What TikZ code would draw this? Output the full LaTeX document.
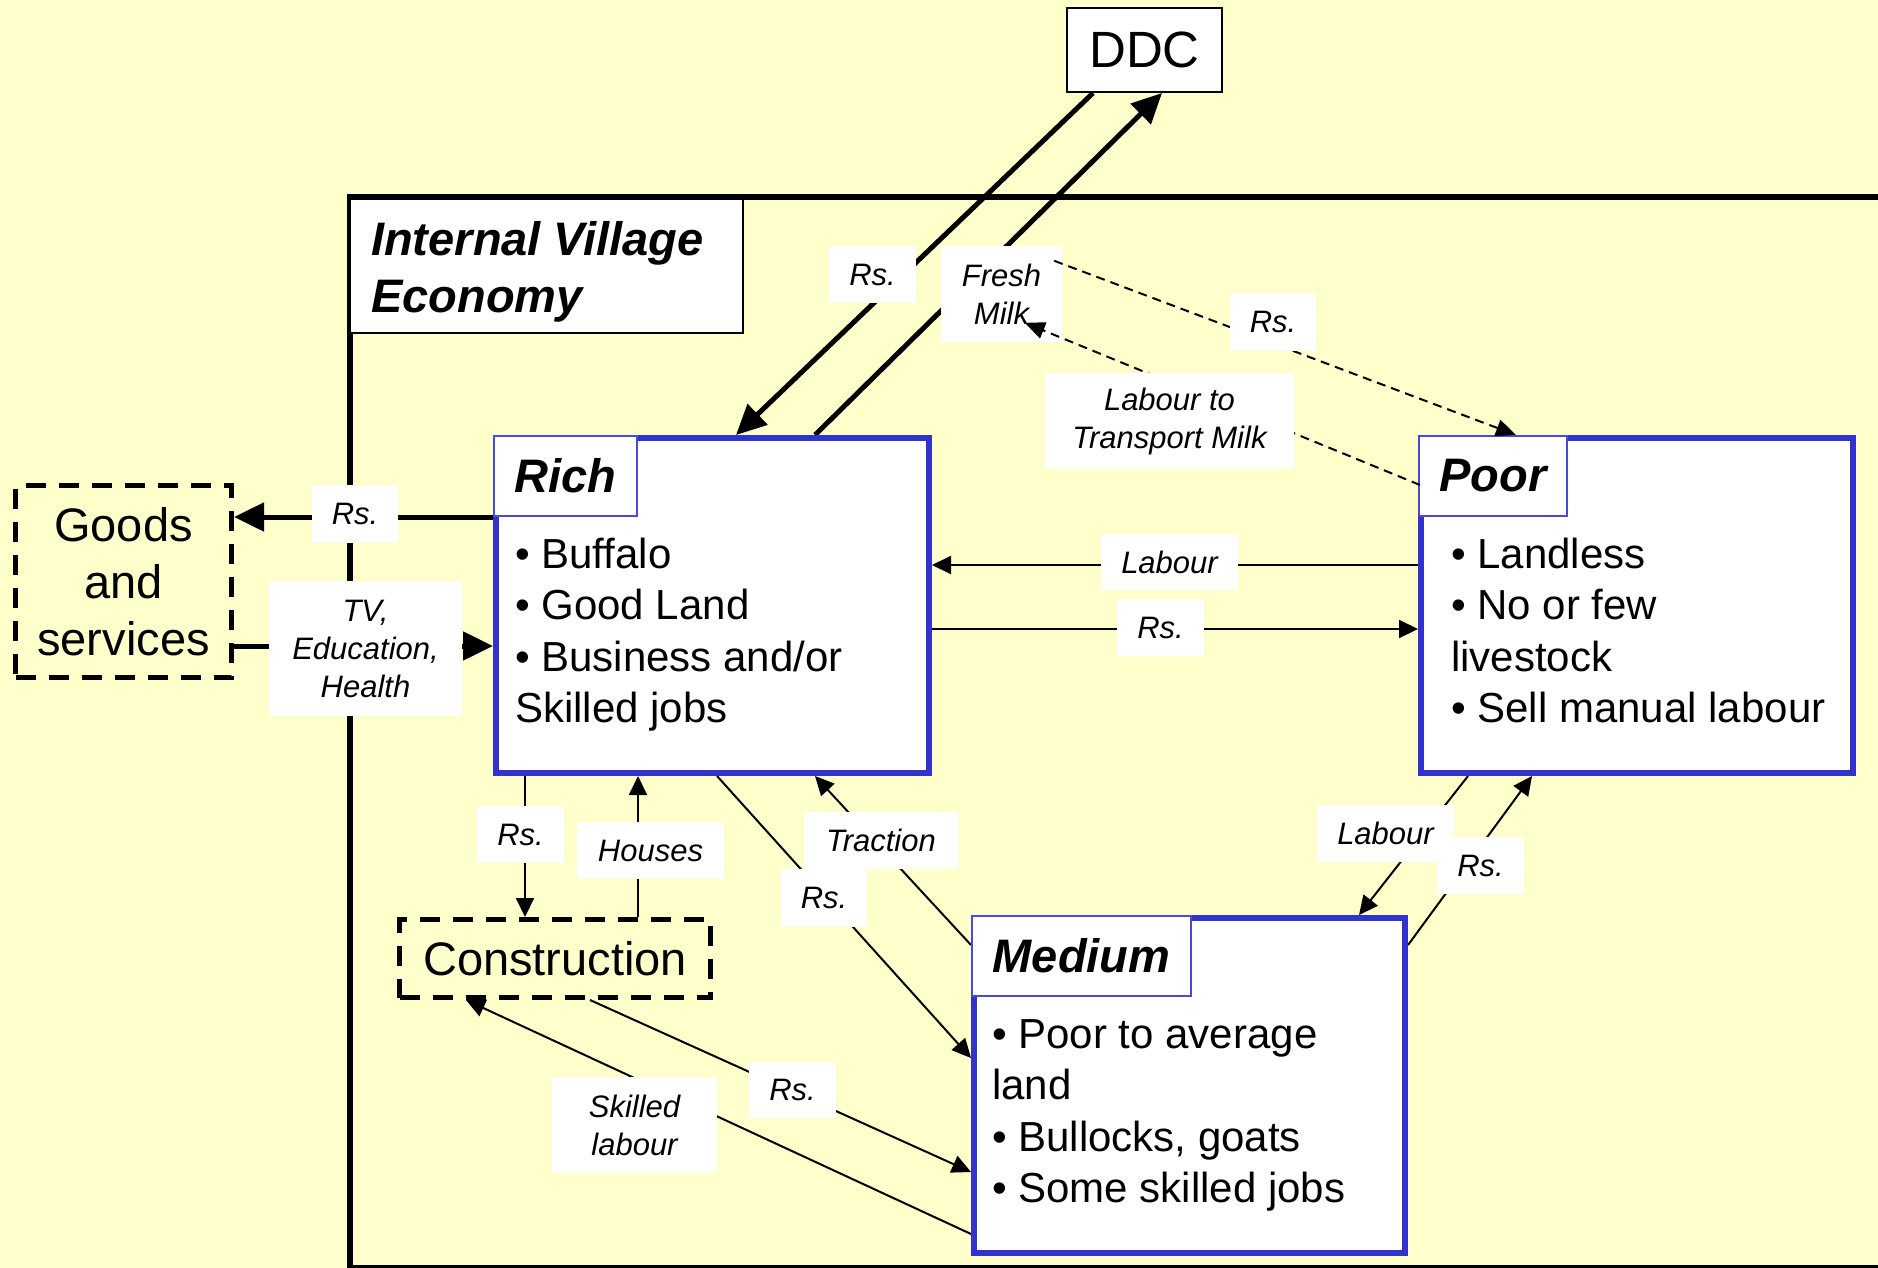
\documentclass[tikz,border=0pt]{standalone}
\usepackage{fontspec}
\setmainfont{Liberation Sans}
\usetikzlibrary{arrows.meta,calc}

\definecolor{paper}{HTML}{FFFFCC}
\definecolor{boxblue}{HTML}{3333CC}
\definecolor{tabblue}{HTML}{4A4AD8}

\pgfdeclarelayer{back}
\pgfdeclarelayer{flow}
\pgfsetlayers{back,flow,main}

\tikzset{
  group/.style={draw=boxblue, line width=6pt, fill=white, inner sep=0pt},
  grouptab/.style={draw=tabblue, line width=2pt, fill=white, inner sep=0pt,
    minimum height=80pt, font=\fontsize{47}{57}\selectfont\bfseries\itshape},
  items/.style={anchor=north west, inner sep=0pt, align=left,
    font=\fontsize{42}{51.5}\selectfont},
  outside/.style={draw, line width=5pt, dash pattern=on 20pt off 13pt,
    inner sep=0pt, align=center, font=\fontsize{47}{57}\selectfont},
  flowlbl/.style={fill=white, inner sep=0pt, align=center,
    font=\fontsize{31}{38}\selectfont\itshape},
  major/.style={line width=5pt, -{Triangle[length=30pt,width=28pt]}},
  minor/.style={line width=2pt, -{Triangle[length=19pt,width=18pt]}},
  milkflow/.style={line width=2pt, dash pattern=on 9pt off 6pt,
    -{Triangle[length=20pt,width=17pt]}},
}

\begin{document}
\begin{tikzpicture}[x=1pt,y=-1pt]
\useasboundingbox (0,0) rectangle (1878,1268);

% paper and the frame of the village economy
\begin{pgfonlayer}{back}
  \clip (0,0) rectangle (1878,1268);
  \fill[paper] (0,0) rectangle (1878,1268);
  \draw[line width=6pt] (350,197) rectangle (1900,1268);
\end{pgfonlayer}

% outside actors
\node[draw, line width=2pt, fill=white, inner sep=0pt, minimum width=155pt,
      minimum height=84pt, font=\fontsize{51}{60}\selectfont] (ddc) at (1144.5,50) {DDC};
\node[outside, minimum width=216pt, minimum height=192pt] (goods) at (123.5,581.5)
      {Goods\\and\\services};

% title of the frame
\node[draw, line width=2pt, fill=white, minimum width=393pt, minimum height=134pt]
      (title) at (546.5,266) {};
\node[anchor=north west, inner sep=0pt, align=left,
      font=\fontsize{47}{57}\selectfont\bfseries\itshape] (titletext) at (371,219)
      {\rule{0pt}{36pt}Internal Village\\Economy};

% household groups
\node[group, minimum width=433pt, minimum height=335pt] (rich) at (712.5,605.5) {};
\node[grouptab, minimum width=143pt] (richtab) at (565.5,476) {Rich};
\node[items] (richitems) at (515,535)
      {\rule{0pt}{33pt}• Buffalo\\• Good Land\\• Business and/or\\Skilled jobs};

\node[group, minimum width=432pt, minimum height=335pt] (poor) at (1637,605.5) {};
\node[grouptab, minimum width=148pt] (poortab) at (1493,476) {Poor};
\node[items] (pooritems) at (1451,535)
      {\rule{0pt}{33pt}• Landless\\• No or few\\livestock\\• Sell manual labour};

\node[group, minimum width=431pt, minimum height=335pt] (medium) at (1189.5,1085.5) {};
\node[grouptab, minimum width=219pt] (mediumtab) at (1081.5,956) {Medium};
\node[items] (mediumitems) at (992,1015)
      {\rule{0pt}{33pt}• Poor to average\\land\\• Bullocks, goats\\• Some skilled jobs};

\node[outside, minimum width=311pt, minimum height=78pt] (cons) at (555,958.5) {Construction};

% flow labels
\node[flowlbl, minimum width=87pt, minimum height=57pt] (rsddc) at (872.5,274.5) {Rs.};
\node[flowlbl, minimum width=121pt, minimum height=96pt] (milk) at (1001.5,294) {Fresh\\Milk};
\node[flowlbl, minimum width=86pt, minimum height=58pt] (rsgoods) at (355,514) {Rs.};
\node[flowlbl, minimum width=193pt, minimum height=135pt] (tv) at (365.5,648.5)
      {TV,\\Education,\\Health};
\node[flowlbl, minimum width=137pt, minimum height=56pt] (labmid) at (1169.5,562) {Labour};
\node[flowlbl, minimum width=87pt, minimum height=57pt] (rsmid) at (1160.5,627.5) {Rs.};
\node[flowlbl, minimum width=87pt, minimum height=57pt] (rscons) at (520.5,834.5) {Rs.};
\node[flowlbl, minimum width=147pt, minimum height=57pt] (houses) at (650.5,850.5) {Houses};
\node[flowlbl, minimum width=154pt, minimum height=57pt] (traction) at (881,840.5) {Traction};
\node[flowlbl, minimum width=86pt, minimum height=58pt] (rsdiag) at (824,898) {Rs.};
\node[flowlbl, minimum width=87pt, minimum height=56pt] (rsconsmed) at (792.5,1090) {Rs.};
\node[flowlbl, minimum width=165pt, minimum height=96pt] (skilled) at (634.5,1125)
      {Skilled\\labour};
\node[flowlbl, minimum width=137pt, minimum height=57pt] (labpm) at (1385.5,833.5) {Labour};
\node[flowlbl, minimum width=87pt, minimum height=57pt] (rspm) at (1480.5,865.5) {Rs.};

% milk transport flows, drawn over the milk label
\draw[milkflow] ($(milk.north east)+(-8,15)$) -- ($(poor.north west)+(98,0)$);
\draw[milkflow] ($(poortab.north west)+(2,50)$) -- ($(milk.north west)+(84,77)$);
\node[flowlbl, minimum width=86pt, minimum height=58pt] (rsdash) at (1273,322) {Rs.};
\node[flowlbl, minimum width=249pt, minimum height=96pt] (transp) at (1169.5,421)
      {Labour to\\Transport Milk};

% money and goods flows
\begin{pgfonlayer}{flow}
  \draw[major] ($(ddc.south west)+(27,0)$) -- ($(rich.north west)+(243,0)$);
  \draw[major] ($(rich.north west)+(322,0)$) -- ($(ddc.south west)+(96,0)$);
  \draw[major] ($(rich.north west)+(0,82)$) -- ($(goods.north east)+(0,34)$);
  \draw[major] ($(goods.north east)+(0,163)$) -- ($(rich.north west)+(0,211)$);

  \draw[minor] ($(poor.north west)+(0,130)$) -- ($(rich.north east)+(0,130)$);
  \draw[minor] ($(rich.north east)+(0,194)$) -- ($(poor.north west)+(0,194)$);

  \draw[minor] ($(rich.south west)+(32,0)$) -- ($(cons.north west)+(128,0)$);
  \draw[minor] ($(cons.north west)+(241,0)$) -- ($(rich.south west)+(145,0)$);
  \draw[minor] ($(rich.south west)+(224,0)$) -- ($(medium.north west)+(0,143)$);
  \draw[minor] ($(medium.north west)+(0,30)$) -- ($(rich.south west)+(322,0)$);

  \draw[minor] ($(poor.south west)+(50,0)$) -- ($(medium.north west)+(388,0)$);
  \draw[minor] ($(medium.north east)+(0,30)$) -- ($(poor.south west)+(114,0)$);

  \draw[minor] ($(cons.south west)+(193,0)$) -- ($(medium.north west)+(0,257)$);
  \draw[minor] ($(medium.north west)+(0,319)$) -- ($(cons.south west)+(69,0)$);
\end{pgfonlayer}
\end{tikzpicture}
\end{document}
